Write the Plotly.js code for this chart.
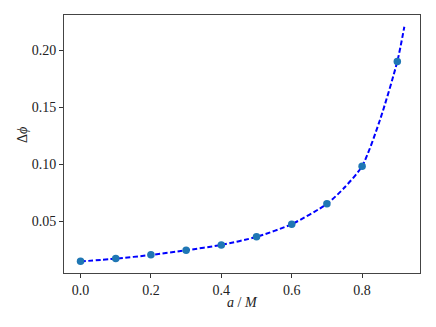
<!DOCTYPE html>
<html>
<head>
<meta charset="UTF-8">
<script src="https://cdn.plot.ly/plotly-3.0.1.min.js"></script>
<style>
  body { margin: 0; background: #fff; }
  #plot { width: 436px; height: 327px; }
</style>
</head>
<body>
<div id="plot"></div>
<script>
    // spin values and phase shift
    const spin = [0.0, 0.1, 0.2, 0.3, 0.4, 0.5, 0.6, 0.7, 0.8, 0.9];
    const dphi = [0.0149, 0.0173, 0.0205, 0.0246, 0.0292, 0.0363, 0.0474, 0.0652, 0.0982, 0.190];

    // dashed fit curve (sampled along the drawn line)
    const fitX = [0.0, 0.1, 0.2, 0.3, 0.4, 0.5, 0.6, 0.7, 0.75, 0.8, 0.85, 0.9, 0.92];
    const fitY = [0.0147, 0.0172, 0.0204, 0.0245, 0.0292, 0.0363, 0.0474, 0.0652, 0.0795, 0.0982, 0.138, 0.190, 0.2204];

    const xTicks = [0.0, 0.2, 0.4, 0.6, 0.8];
    const yTicks = [0.05, 0.10, 0.15, 0.20];

    const fit = {
        x: fitX, y: fitY,
        type: 'scatter', mode: 'lines',
        line: { color: '#0000ff', width: 2, dash: '5px,2.5px', shape: 'spline', smoothing: 0.7 },
        hoverinfo: 'skip'
    };

    const pts = {
        x: spin, y: dphi,
        type: 'scatter', mode: 'markers',
        marker: { color: '#1f77b4', size: 7.5 }
    };

    const font = { family: 'Liberation Serif, DejaVu Serif, serif', size: 14, color: '#222' };

    const layout = {
        width: 436, height: 327,
        margin: { l: 64, r: 16, t: 15, b: 54 },
        showlegend: false,
        paper_bgcolor: '#fff', plot_bgcolor: '#fff',
        font: font,
        xaxis: {
            range: [-0.047, 0.9645],
            tickvals: xTicks, tickformat: '.1f',
            ticks: 'outside', ticklen: 4, tickwidth: 1, tickcolor: '#333',
            showgrid: false, zeroline: false,
            showline: true, linecolor: '#444', linewidth: 1, mirror: true
        },
        yaxis: {
            range: [0.0046, 0.2307],
            tickvals: yTicks, tickformat: '.2f',
            ticks: 'outside', ticklen: 4, tickwidth: 1, tickcolor: '#333',
            showgrid: false, zeroline: false,
            showline: true, linecolor: '#444', linewidth: 1, mirror: true
        },
        annotations: [
            {
                text: '<i>a</i> / <i>M</i>', xref: 'paper', yref: 'paper',
                x: 0.5, y: -0.115, yanchor: 'middle', showarrow: false, font: font
            },
            {
                text: 'Δ<i>ϕ</i>', xref: 'paper', yref: 'paper',
                x: -0.115, y: 0.535, xanchor: 'center', yanchor: 'middle',
                textangle: -90, showarrow: false, font: font
            }
        ]
    };

    Plotly.newPlot('plot', [fit, pts], layout, { displayModeBar: false, staticPlot: true });
</script>
</body>
</html>
